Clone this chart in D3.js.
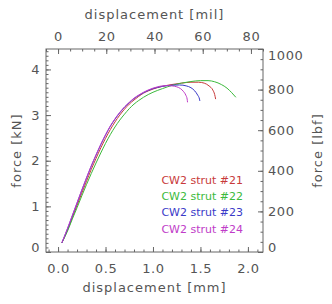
<!DOCTYPE html>
<html>
<head>
<meta charset="utf-8">
<script src="https://cdn.jsdelivr.net/npm/d3@7"></script>
<style>
  body { margin: 0; background: #fff; }
  text { font-family: "DejaVu Sans", sans-serif; fill: #555; }
</style>
</head>
<body>
<div id="chart"></div>
<script>
// data: displacement [mm] vs force [kN]
var disp21 = [0.04,0.10,0.15,0.20,0.25,0.30,0.35,0.40,0.45,0.50,0.55,0.60,0.65,0.70,0.75,0.80,0.85,0.90,0.95,1.00,1.10,1.20,1.30,1.40,1.48,1.54,1.59,1.63,1.65,1.66];
var force21 = [0.20,0.48,0.75,1.02,1.29,1.55,1.81,2.05,2.28,2.49,2.68,2.85,3.00,3.13,3.24,3.33,3.41,3.48,3.53,3.57,3.63,3.67,3.70,3.72,3.72,3.70,3.64,3.55,3.45,3.35];

var disp22 = [0.04,0.10,0.15,0.20,0.25,0.30,0.35,0.40,0.45,0.50,0.55,0.60,0.65,0.70,0.75,0.80,0.85,0.90,0.95,1.00,1.10,1.20,1.30,1.40,1.50,1.58,1.65,1.72,1.78,1.83,1.873];
var force22 = [0.20,0.46,0.72,0.97,1.23,1.48,1.72,1.95,2.17,2.38,2.57,2.74,2.89,3.02,3.14,3.24,3.32,3.39,3.45,3.50,3.58,3.65,3.70,3.735,3.755,3.755,3.73,3.67,3.59,3.49,3.39];

var disp23 = [0.04,0.10,0.15,0.20,0.25,0.30,0.35,0.40,0.45,0.50,0.55,0.60,0.65,0.70,0.75,0.80,0.85,0.90,0.95,1.00,1.10,1.20,1.28,1.35,1.40,1.44,1.47,1.49,1.494];
var force23 = [0.20,0.51,0.79,1.07,1.35,1.62,1.88,2.12,2.35,2.56,2.75,2.91,3.05,3.17,3.27,3.36,3.43,3.49,3.54,3.58,3.63,3.655,3.66,3.64,3.60,3.53,3.44,3.35,3.31];

var disp24 = [0.04,0.10,0.15,0.20,0.25,0.30,0.35,0.40,0.45,0.50,0.55,0.60,0.65,0.70,0.75,0.80,0.85,0.90,0.95,1.00,1.05,1.10,1.15,1.20,1.25,1.29,1.32,1.345,1.36,1.364];
var force24 = [0.20,0.52,0.80,1.08,1.36,1.63,1.89,2.13,2.36,2.57,2.76,2.92,3.06,3.18,3.28,3.37,3.44,3.50,3.55,3.59,3.62,3.64,3.645,3.64,3.62,3.58,3.52,3.44,3.35,3.28];

var seriesNames = ["CW2 strut #21", "CW2 strut #22", "CW2 strut #23", "CW2 strut #24"];
var seriesColors = ["#c83a3a", "#3cba3c", "#3a3ac8", "#c03cc8"];

var mmTicks = [0.0, 0.5, 1.0, 1.5, 2.0];
var milTicks = [0, 20, 40, 60, 80];
var kNTicks = [0, 1, 2, 3, 4];
var lbfTicks = [0, 200, 400, 600, 800, 1000];

// set the dimensions and margins of the graph
var margin = {top: 49, right: 69, bottom: 52, left: 46},
    width = 332 - margin.left - margin.right,
    height = 304 - margin.top - margin.bottom;

var svg = d3.select("#chart")
  .append("svg")
    .attr("width", width + margin.left + margin.right)
    .attr("height", height + margin.top + margin.bottom)
  .append("g")
    .attr("transform", "translate(" + margin.left + "," + margin.top + ")");

// scales (mil / lbf axes are the same range in other units)
var x = d3.scaleLinear().domain([-0.127, 2.159]).range([0, width]);
var xMil = d3.scaleLinear().domain([-5, 85]).range([0, width]);
var y = d3.scaleLinear().domain([0, 4.448]).range([height, 0]);
var yLbf = d3.scaleLinear().domain([0, 1000]).range([height, 0]);

var axisColor = "#666";
var plain = d3.format("d");

function styleAxis(g) {
  g.select(".domain").remove();
  g.selectAll("line").attr("stroke", axisColor);
  g.selectAll("text")
    .style("font-family", "DejaVu Sans, sans-serif")
    .style("font-size", "13px")
    .style("letter-spacing", "0.6px")
    .attr("fill", "#555");
}

// minor ticks
svg.append("g").attr("transform", "translate(0," + height + ")")
  .call(d3.axisBottom(x).tickValues(d3.range(-1, 22).map(function(d){ return d / 10; })).tickSize(-2.5).tickFormat(""))
  .call(styleAxis);
svg.append("g")
  .call(d3.axisTop(xMil).tickValues(d3.range(-5, 86, 5)).tickSize(-2.5).tickFormat(""))
  .call(styleAxis);
svg.append("g")
  .call(d3.axisLeft(y).tickValues(d3.range(0, 45).map(function(d){ return d / 10; })).tickSize(-2.5).tickFormat(""))
  .call(styleAxis);
svg.append("g").attr("transform", "translate(" + width + ",0)")
  .call(d3.axisRight(yLbf).tickValues(d3.range(0, 1001, 50)).tickSize(-2.5).tickFormat(""))
  .call(styleAxis);

// major ticks + labels
svg.append("g").attr("transform", "translate(0," + height + ")")
  .call(d3.axisBottom(x).tickValues(mmTicks).tickSize(-5).tickPadding(12).tickFormat(d3.format(".1f")))
  .call(styleAxis);
svg.append("g")
  .call(d3.axisTop(xMil).tickValues(milTicks).tickSize(-5).tickPadding(8).tickFormat(plain))
  .call(styleAxis);
var yLeft = svg.append("g")
  .call(d3.axisLeft(y).tickValues(kNTicks).tickSize(-5).tickPadding(6).tickFormat(plain))
  .call(styleAxis);
var yRight = svg.append("g").attr("transform", "translate(" + width + ",0)")
  .call(d3.axisRight(yLbf).tickValues(lbfTicks).tickSize(-5).tickPadding(5).tickFormat(plain))
  .call(styleAxis);

// keep the end labels inside the frame
yLeft.selectAll(".tick text").filter(function(d){ return d === 0; }).attr("dy", "-0.05em");
yRight.selectAll(".tick text").filter(function(d){ return d === 0; }).attr("dy", "-0.05em");
yRight.selectAll(".tick text").filter(function(d){ return d === 1000; }).attr("dy", "0.8em");

// frame
svg.append("rect")
  .attr("width", width)
  .attr("height", height)
  .attr("fill", "none")
  .attr("stroke", axisColor)
  .attr("stroke-width", 1);

// the curves
var allDisp = [disp21, disp22, disp23, disp24];
var allForce = [force21, force22, force23, force24];

var line = d3.line()
  .x(function(d) { return x(d[0]) })
  .y(function(d) { return y(d[1]) })
  .curve(d3.curveMonotoneX);

allDisp.forEach(function(dd, i) {
  var pts = dd.map(function(v, j) { return [v, allForce[i][j]]; });
  svg.append("path")
    .datum(pts)
    .attr("fill", "none")
    .attr("stroke", seriesColors[i])
    .attr("stroke-width", 1)
    .attr("d", line);
});

// legend
svg.selectAll("legendText")
  .data(seriesNames)
  .enter()
  .append("text")
    .attr("x", 197)
    .attr("y", function(d, i) { return 131 + i * 16.3; })
    .attr("dy", "0.35em")
    .attr("text-anchor", "end")
    .style("font-size", "11px")
    .style("fill", function(d, i) { return seriesColors[i]; })
    .text(function(d) { return d; });

// axis titles
var titleStyle = function(t) {
  t.style("font-size", "13px").style("letter-spacing", "1px").attr("text-anchor", "middle");
};
svg.append("text")
  .attr("x", width / 2).attr("y", -30.5)
  .text("displacement [mil]").call(titleStyle);
svg.append("text")
  .attr("x", width / 2).attr("y", height + 40)
  .text("displacement [mm]").call(titleStyle);
svg.append("text")
  .attr("transform", "translate(-30," + (height / 2) + ") rotate(-90)")
  .attr("dy", "0.35em")
  .text("force [kN]").call(titleStyle);
svg.append("text")
  .attr("transform", "translate(" + (width + 54) + "," + (height / 2) + ") rotate(-90)")
  .attr("dy", "0.35em")
  .text("force [lbf]").call(titleStyle);
</script>
</body>
</html>
